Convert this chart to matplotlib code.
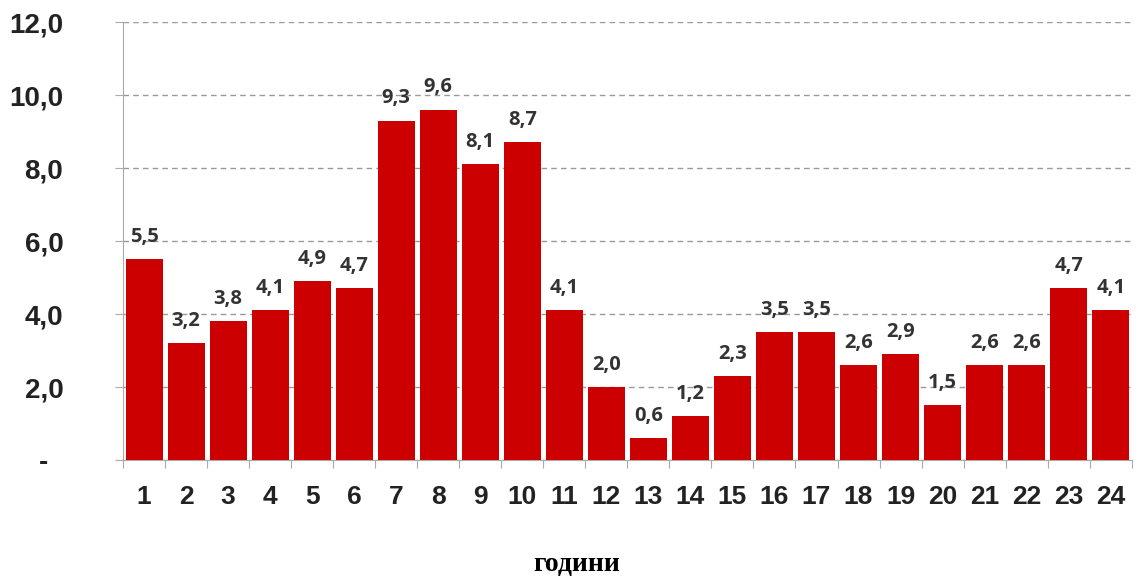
import numpy as np
import matplotlib.pyplot as plt

hours = list(range(1, 25))
values = [5.5, 3.2, 3.8, 4.1, 4.9, 4.7, 9.3, 9.6, 8.1, 8.7, 4.1, 2.0,
          0.6, 1.2, 2.3, 3.5, 3.5, 2.6, 2.9, 1.5, 2.6, 2.6, 4.7, 4.1]
y_ticks = [0, 2, 4, 6, 8, 10, 12]
y_labels = ["-  ", "2,0", "4,0", "6,0", "8,0", "10,0", "12,0"]

fig = plt.figure(figsize=(11.42, 5.79), dpi=100)
ax = fig.add_axes([0.1077, 0.2055, 0.8833, 0.7565])

ax.bar(hours, values, width=0.88, color="#CC0000", zorder=3)
for h, v in zip(hours, values):
    ax.annotate(f"{v:.1f}".replace(".", ","), (h, v), xytext=(0, 9),
                textcoords="offset points", ha="center", va="bottom",
                fontsize=14.5, fontweight="bold", color="#333333", family="Open Sans")

ax.set_xlim(0.5, 24.5)
ax.set_ylim(0, 12)
ax.set_yticks(y_ticks)
ax.set_yticklabels(y_labels, fontsize=20, fontweight="bold",
                   family="Liberation Sans", color="#222222")
ax.yaxis.grid(True, linestyle=(0, (4, 3)), color="#999999", linewidth=1, zorder=0)

# tick marks between bars, labels at bar centres
ax.set_xticks(np.arange(0.5, 25, 1))
ax.set_xticklabels([])
ax.set_xticks(hours, minor=True)
ax.set_xticklabels([str(h) for h in hours], minor=True, fontsize=19,
                   fontweight="bold", family="Liberation Sans", color="#222222")
ax.tick_params(axis="x", which="major", length=6, color="#aaaaaa")
ax.tick_params(axis="x", which="minor", length=0, pad=18)
ax.tick_params(axis="y", length=6, color="#aaaaaa", pad=37)

for s in ["top", "right"]:
    ax.spines[s].set_visible(False)
ax.spines["left"].set_color("#aaaaaa")
ax.spines["bottom"].set_color("#aaaaaa")

fig.text(0.505, 0.004, "години", ha="center", va="bottom", fontsize=20,
         fontweight="bold", family="Liberation Serif")

fig.savefig("out.png", dpi=100)
